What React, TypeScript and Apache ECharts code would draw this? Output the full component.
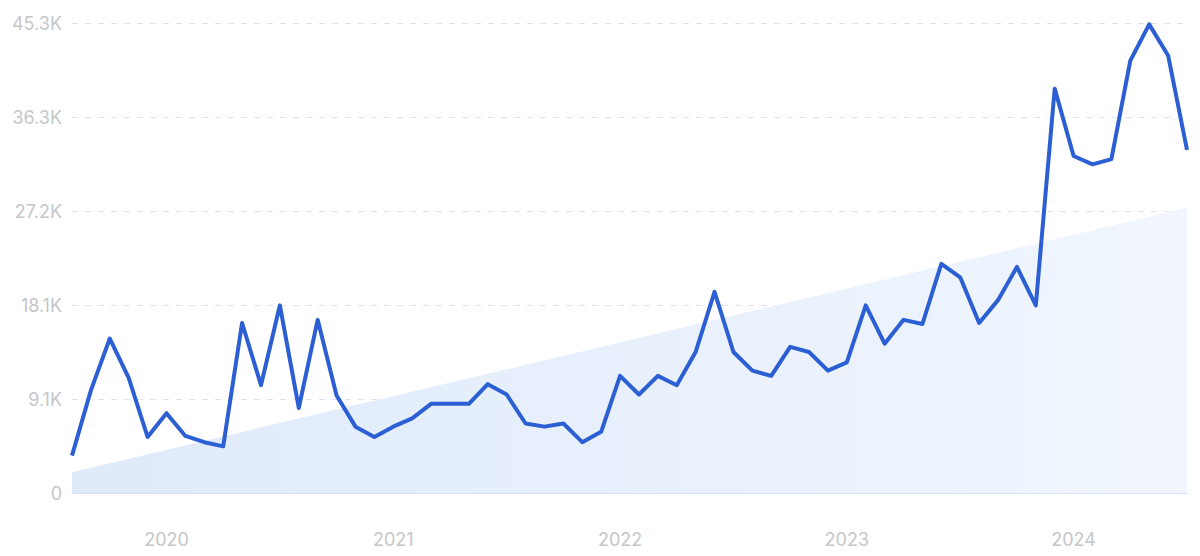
import React, { useEffect, useRef } from "react";
import * as echarts from "echarts";

const months: string[] = [
  "2019-08", "2019-09", "2019-10", "2019-11", "2019-12",
  "2020-01", "2020-02", "2020-03", "2020-04", "2020-05", "2020-06", "2020-07", "2020-08", "2020-09", "2020-10", "2020-11", "2020-12",
  "2021-01", "2021-02", "2021-03", "2021-04", "2021-05", "2021-06", "2021-07", "2021-08", "2021-09", "2021-10", "2021-11", "2021-12",
  "2022-01", "2022-02", "2022-03", "2022-04", "2022-05", "2022-06", "2022-07", "2022-08", "2022-09", "2022-10", "2022-11", "2022-12",
  "2023-01", "2023-02", "2023-03", "2023-04", "2023-05", "2023-06", "2023-07", "2023-08", "2023-09", "2023-10", "2023-11", "2023-12",
  "2024-01", "2024-02", "2024-03", "2024-04", "2024-05", "2024-06", "2024-07",
];

const searches: number[] = [
  3600, 9900, 14900, 11100, 5400,
  7700, 5500, 4900, 4500, 16400, 10400, 18100, 8200, 16700, 9400, 6400, 5400,
  6400, 7200, 8600, 8600, 8600, 10500, 9500, 6700, 6400, 6700, 4900, 5900,
  11300, 9500, 11300, 10400, 13600, 19400, 13600, 11800, 11300, 14100, 13600, 11800,
  12600, 18100, 14400, 16700, 16300, 22100, 20800, 16400, 18600, 21800, 18100, 39000,
  32500, 31700, 32200, 41700, 45200, 42200, 33100,
];

const trendStart = 2000;
const trendEnd = 27500;

const yTickLabels: string[] = ["0", "9.1K", "18.1K", "27.2K", "36.3K", "45.3K"];
const yMax = 45330;

export default function App() {
  const ref = useRef<HTMLDivElement>(null);

  useEffect(() => {
    document.body.style.margin = "0";
    if (!ref.current) return;
    const chart = echarts.init(ref.current, null, { renderer: "svg" });
    const interval = yMax / (yTickLabels.length - 1);
    chart.setOption({
      animation: false,
      grid: { left: 72, right: 13, top: 23, bottom: 63 },
      xAxis: {
        type: "category",
        data: months,
        boundaryGap: false,
        axisLine: { show: true, lineStyle: { color: "#d5e3f7", width: 1 } },
        axisTick: { show: false },
        splitLine: { show: false },
        axisLabel: {
          interval: (idx: number, val: string) => val.endsWith("-01"),
          formatter: (val: string) => val.slice(0, 4),
          color: "#c6c6ca",
          fontSize: 18,
          fontFamily: "Inter",
          margin: 37,
        },
      },
      yAxis: {
        type: "value",
        min: 0,
        max: yMax,
        interval: interval,
        axisLine: { show: false },
        axisTick: { show: false },
        splitLine: {
          show: true,
          lineStyle: { color: "#dce3f1", type: [6, 7], width: 1 },
        },
        axisLabel: {
          formatter: (v: number) => yTickLabels[Math.round(v / interval)] ?? "",
          color: "#c6c6ca",
          fontSize: 18,
          fontFamily: "Inter",
          margin: 10,
        },
      },
      series: [
        {
          type: "line",
          data: [
            [0, trendStart],
            [months.length - 1, trendEnd],
          ],
          symbol: "none",
          lineStyle: { width: 0, opacity: 0 },
          areaStyle: {
            color: new echarts.graphic.LinearGradient(0, 0, 1, 0, [
              { offset: 0, color: "#dfeafa" },
              { offset: 1, color: "#f1f6fe" },
            ]),
            opacity: 1,
          },
          silent: true,
          z: 1,
        },
        {
          type: "line",
          data: searches,
          symbol: "none",
          lineStyle: { color: "#2c5fd4", width: 4, join: "round" },
          z: 3,
        },
      ],
    });
    return () => chart.dispose();
  }, []);

  return <div ref={ref} style={{ width: 1200, height: 556 }} />;
}
